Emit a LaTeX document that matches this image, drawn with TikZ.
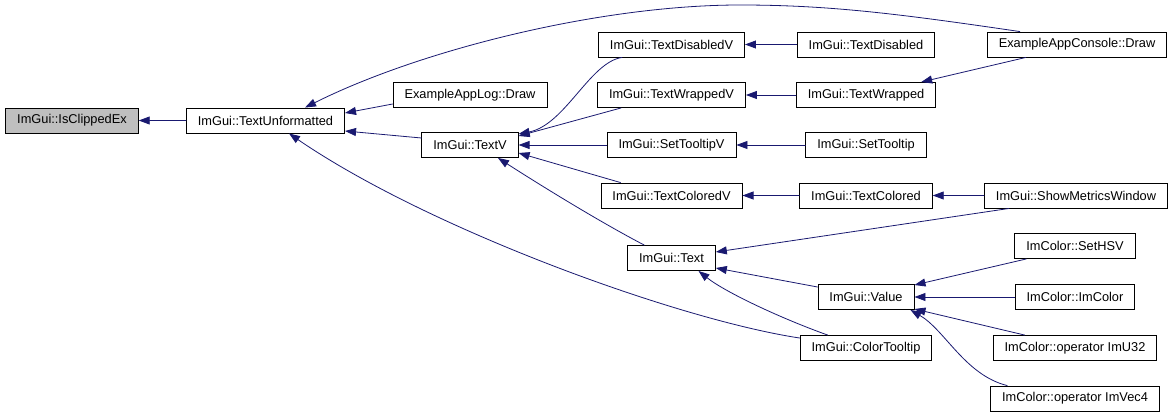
\documentclass[tikz,border=0pt]{standalone}
\usepackage{fontspec}
\setmainfont{Liberation Sans}
\usepackage{xcolor}
\definecolor{myedge}{RGB}{25,25,112}
\definecolor{mygray}{RGB}{191,191,191}
\usepackage{tikz}
\usetikzlibrary{arrows.meta}

\begin{document}
\begin{tikzpicture}[x=1pt,y=-1pt,line cap=round]
	\tikzstyle{fn}=[draw=black,fill=white,line width=0.9pt,minimum height=25pt,inner xsep=11.5pt,inner ysep=0pt,font=\fontsize{12.8}{14}\selectfont];
	\tikzstyle{call}=[draw=myedge,line width=0.8pt,-{Triangle[length=11pt,width=8pt]}];
	\useasboundingbox (0,0) rectangle (1175,417);
	% functions, column by column
	\node[fn,fill=mygray] (IsClippedEx) at (72,120.5) {ImGui::IsClippedEx};
	\node[fn] (TextUnformatted) at (265.5,120.5) {ImGui::TextUnformatted};
	\node[fn] (AppLogDraw) at (470,95) {ExampleAppLog::Draw};
	\node[fn] (TextV) at (470,145) {ImGui::TextV};
	\node[fn] (TextDisabledV) at (671.5,44.5) {ImGui::TextDisabledV};
	\node[fn] (TextWrappedV) at (671.5,95) {ImGui::TextWrappedV};
	\node[fn] (SetTooltipV) at (671.5,145) {ImGui::SetTooltipV};
	\node[fn] (TextColoredV) at (671.5,195.5) {ImGui::TextColoredV};
	\node[fn] (Text) at (671.5,258) {ImGui::Text};
	\node[fn] (TextDisabled) at (866,44.5) {ImGui::TextDisabled};
	\node[fn] (TextWrapped) at (866,95) {ImGui::TextWrapped};
	\node[fn] (SetTooltip) at (866,145) {ImGui::SetTooltip};
	\node[fn] (TextColored) at (866,195.5) {ImGui::TextColored};
	\node[fn] (Value) at (866,297) {ImGui::Value};
	\node[fn] (ColorTooltip) at (866,348) {ImGui::ColorTooltip};
	\node[fn] (AppConsoleDraw) at (1077,44.5) {ExampleAppConsole::Draw};
	\node[fn] (ShowMetrics) at (1076,195.5) {ImGui::ShowMetricsWindow};
	\node[fn] (SetHSV) at (1075,246) {ImColor::SetHSV};
	\node[fn] (ImColorCtor) at (1075,297) {ImColor::ImColor};
	\node[fn] (OpImU32) at (1075,348) {ImColor::operator ImU32};
	\node[fn] (OpImVec4) at (1075,398.5) {ImColor::operator ImVec4};
	% callers -> callees
	\draw[call] (TextUnformatted) -- (IsClippedEx);
	\draw[call] ([xshift=33pt]AppConsoleDraw.north west) .. controls (900,14) and (830,5) .. (740,5)
		.. controls (600,5) and (420,50) .. ([xshift=-40pt]TextUnformatted.north east);
	\draw[call] ([yshift=-9pt]AppLogDraw.west) -- ([yshift=7.5pt]TextUnformatted.east);
	\draw[call] ([yshift=7pt]TextV.west) -- ([yshift=-10.5pt]TextUnformatted.east);
	\draw[call] ([yshift=10pt]ColorTooltip.west) .. controls (680,320) and (430,230) .. ([xshift=23.5pt]TextUnformatted.south);
	\draw[call] ([xshift=24pt]TextDisabledV.south west) .. controls (590,62) and (565,125) .. ([yshift=11pt]TextV.east);
	\draw[call] ([xshift=24pt]TextWrappedV.south west) -- ([yshift=9pt]TextV.east);
	\draw[call] (SetTooltipV) -- (TextV);
	\draw[call] ([xshift=20pt]TextColoredV.north west) -- ([yshift=-8pt]TextV.east);
	\draw[call] ([xshift=17pt]Text.north west) .. controls (600,222) and (540,185) .. ([xshift=28pt]TextV.south);
	\draw[call] (TextDisabled) -- (TextDisabledV);
	\draw[call] (TextWrapped) -- (TextWrappedV);
	\draw[call] (SetTooltip) -- (SetTooltipV);
	\draw[call] (TextColored) -- (TextColoredV);
	\draw[call] (ShowMetrics) -- (TextColored);
	\draw[call] ([xshift=39pt]AppConsoleDraw.south west) -- ([xshift=-15pt]TextWrapped.north east);
	\draw[call] ([xshift=25pt]ShowMetrics.south west) -- ([yshift=6pt]Text.east);
	\draw[call] ([yshift=10pt]Value.west) -- ([yshift=-10pt]Text.east);
	\draw[call] ([xshift=28pt]ColorTooltip.north west) .. controls (780,318) and (725,292) .. ([xshift=27pt]Text.south);
	\draw[call] ([xshift=12pt]SetHSV.south west) -- ([yshift=12pt]Value.east);
	\draw[call] (ImColorCtor) -- (Value);
	\draw[call] ([xshift=32pt]OpImU32.north west) -- ([yshift=-12pt]Value.east);
	\draw[call] ([xshift=17pt]OpImVec4.north west) .. controls (965,375) and (945,330) .. ([xshift=-4pt]Value.south east);
\end{tikzpicture}
\end{document}
